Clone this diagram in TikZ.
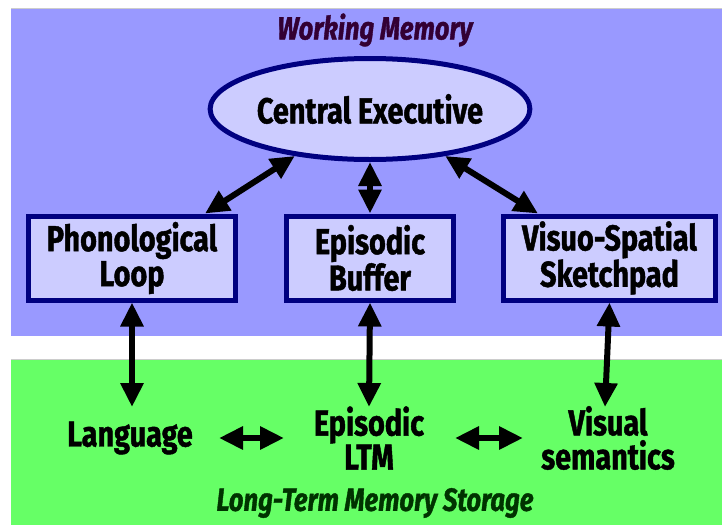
\documentclass[tikz,border=0pt]{standalone}
\usepackage{fontspec}
\setmainfont{Fira Sans}[FakeStretch=0.8, FakeBold=1.2]
\usetikzlibrary{arrows.meta,shapes.geometric}
\definecolor{wmblue}{HTML}{9999FF}
\definecolor{ltmgreen}{HTML}{66FF66}
\definecolor{boxfill}{HTML}{CCCCFF}
\definecolor{boxline}{HTML}{000080}
\definecolor{wmtitle}{HTML}{330033}
\definecolor{ltmtitle}{HTML}{003300}
\tikzset{
  module/.style={draw=boxline, line width=5pt, fill=boxfill, inner sep=0pt,
    minimum height=84pt, align=center, font=\fontsize{36}{35}\selectfont\bfseries},
  store/.style={inner sep=0pt, align=center, font=\fontsize{36}{34}\selectfont\bfseries},
  link/.style={line width=6pt, {Triangle[length=24pt,width=22pt]}-{Triangle[length=24pt,width=22pt]}},
  title/.style={font=\fontsize{32}{34}\selectfont\bfseries\itshape}
}
\begin{document}
\begin{tikzpicture}[x=1pt,y=-1pt]
  \useasboundingbox (0,0) rectangle (722,525);
  % regions
  \fill[wmblue] (11,8) rectangle (722,336);
  \fill[ltmgreen] (11,359) rectangle (722,525);
  \draw[gray!40, line width=0.8pt] (11,8) -- (722,8);
  \draw[gray!40, line width=0.8pt] (11,359) -- (722,359);

  \node[title, text=wmtitle] (wmt) at (375,30) {Working Memory};
  \node[title, text=ltmtitle] (ltmt) at (375,503) {Long-Term Memory Storage};

  % working memory components
  \node[ellipse, draw=boxline, line width=5pt, fill=boxfill, inner sep=0pt,
        minimum width=303pt, minimum height=101pt,
        font=\fontsize{36}{38}\selectfont\bfseries] (ce) at (370,109) {Central Executive};
  \node[module, minimum width=207pt] (phon) at (132,258) {Phonological\\Loop};
  \node[module, minimum width=167pt] (buf) at (370,258) {Episodic\\Buffer};
  \node[module, minimum width=212pt] (vis) at (609.5,258) {Visuo-Spatial\\Sketchpad};

  % long-term stores
  \node[store] (lang) at (130,438) {Language};
  \node[store] (ltm) at (369,438) {Episodic\\LTM};
  \node[store] (vsem) at (608,438) {Visual\\semantics};

  \coordinate (langtop) at (132,407);
  \coordinate (ltmtop) at (369,407);
  \coordinate (vsemtop) at (605,407);
  \coordinate (h1a) at (219,438);
  \coordinate (h1b) at (284,438);
  \coordinate (h2a) at (455,438);
  \coordinate (h2b) at (523,438);

  % connectors
  \draw[link] ([xshift=-33pt]phon.north east) -- (ce.212);
  \draw[link] (buf.north) -- (ce.south);
  \draw[link] ([xshift=37pt]vis.north west) -- (ce.328);
  \draw[link] (phon.south) -- (langtop);
  \draw[link] (buf.south) -- (ltmtop);
  \draw[link] (vis.south) -- (vsemtop);
  \draw[link] (h1a) -- (h1b);
  \draw[link] (h2a) -- (h2b);
\end{tikzpicture}
\end{document}
